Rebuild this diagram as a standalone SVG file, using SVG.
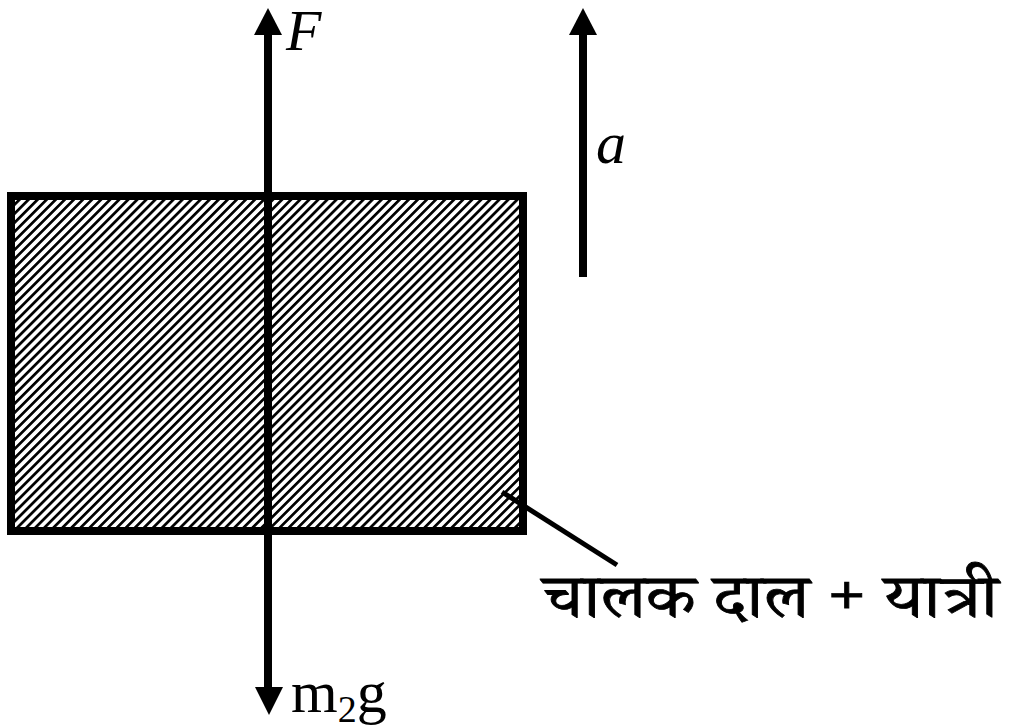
<svg xmlns="http://www.w3.org/2000/svg" width="1027" height="728" viewBox="0 0 1027 728">
<style>
.lat{font-family:"Liberation Serif","Times New Roman",serif;fill:#000}
.it{font-style:italic}
.hin{font-family:"Noto Serif Devanagari","Noto Sans Devanagari","Lohit Devanagari","FreeSerif","Noto Sans",serif;fill:#000;stroke:#000;stroke-width:0.8}
.shaft{stroke:#000;stroke-width:8;fill:none}
</style>
<defs>
<pattern id="hatch" patternUnits="userSpaceOnUse" width="6.4" height="10" patternTransform="rotate(45)">
<rect x="0" y="0" width="6.4" height="10" fill="#fff"/>
<rect x="0" y="0" width="2.7" height="10" fill="#000"/>
</pattern>
</defs>
<rect width="1027" height="728" fill="#fff"/>
<g id="body">
<rect x="11" y="196" width="512" height="335" fill="url(#hatch)" stroke="#000" stroke-width="8"/>
</g>
<g id="connectors">
<line class="shaft" x1="268" y1="34" x2="268" y2="688"/>
<polygon points="268,8 254,35 282,35" fill="#000"/>
<polygon points="269,715 255,687 283,687" fill="#000"/>
<line class="shaft" x1="583" y1="34" x2="583" y2="277"/>
<polygon points="583,8 569,35 597,35" fill="#000"/>
<line x1="502" y1="492" x2="617" y2="565" stroke="#000" stroke-width="5"/>
</g>
<g id="labels">
<text class="lat it" x="286" y="50" font-size="58">F</text>
<text class="lat it" x="596" y="163" font-size="60">a</text>
<text class="lat" x="291" y="712" font-size="60">m<tspan font-size="38" dy="10" fill="#000">2</tspan><tspan dy="-10" fill="#000">g</tspan></text>
<text class="hin" x="543" y="617" font-size="60" textLength="455" lengthAdjust="spacingAndGlyphs">चालक दाल + यात्री</text>
</g>
</svg>
